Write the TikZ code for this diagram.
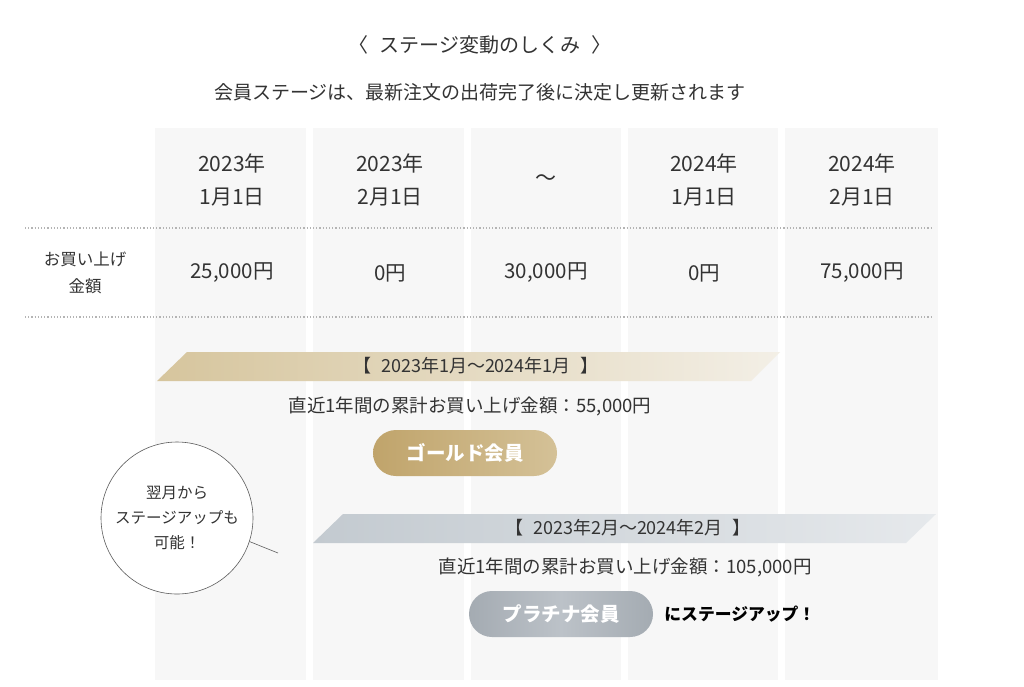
\documentclass[tikz,border=0pt]{standalone}
\usepackage{fontspec}
\setmainfont{Noto Sans CJK JP}
\usetikzlibrary{positioning,calc}
\definecolor{colbg}{HTML}{F7F7F7}
\definecolor{txtgray}{HTML}{333333}
\definecolor{dotgray}{HTML}{B4B4B4}
\definecolor{goldA}{HTML}{D6C59D}
\definecolor{goldB}{HTML}{F3EFE6}
\definecolor{silverA}{HTML}{C3CAD0}
\definecolor{silverB}{HTML}{E6E9EC}
\definecolor{goldpillA}{HTML}{C0A46B}
\definecolor{goldpillB}{HTML}{D4C197}
\definecolor{silverpillA}{HTML}{A4ABB2}
\definecolor{silverpillM}{HTML}{BCC2C8}

\begin{document}
\begin{tikzpicture}[
    x=1pt, y=-1pt,
    txt/.style={text=txtgray, inner sep=0pt, align=center, font=\fontsize{18.5}{22}\selectfont},
    datetxt/.style={txt, font=\fontsize{21}{33}\selectfont},
    amount/.style={txt, font=\fontsize{20.5}{22}\selectfont},
    bandtxt/.style={txt, font=\fontsize{18}{20}\selectfont},
    pill/.style={rounded corners=23pt, minimum width=184pt, minimum height=46pt, inner sep=0pt,
        text=white, font=\fontsize{19.5}{20}\selectfont\bfseries},
    rule/.style={dotgray, line width=1.2pt, dash pattern=on 1.2pt off 2pt},
    bubble/.style={circle, draw=txtgray!80, line width=0.6pt, fill=white, minimum size=152pt,
        inner sep=0pt, align=center, text=txtgray, font=\fontsize{15.5}{25}\selectfont}
]
\useasboundingbox (0,0) rectangle (1024,686);
\fill[white] (0,0) rectangle (1024,686);

% columns
\fill[colbg] (155,128) rectangle (306,680);
\fill[colbg] (313,128) rectangle (464,680);
\fill[colbg] (471,128) rectangle (621,680);
\fill[colbg] (628,128) rectangle (778,680);
\fill[colbg] (785,128) rectangle (938,680);

% headings
\node[txt, font=\fontsize{20}{22}\selectfont] (title) at (480,45) {〈\hspace{7pt} ステージ変動のしくみ \hspace{7pt}〉};
\node[txt, font=\fontsize{19}{22}\selectfont] (lead) at (480,92) {会員ステージは、最新注文の出荷完了後に決定し更新されます};

% dates
\node[datetxt] (d1) at (232,180) {2023年\\1月1日};
\node[datetxt] (d2) at (390,180) {2023年\\2月1日};
\node[datetxt] (d3) at (546,180) {～};
\node[datetxt] (d4) at (704,180) {2024年\\1月1日};
\node[datetxt] (d5) at (862,180) {2024年\\2月1日};

\draw[rule] (25,228) -- (932,228);
\draw[rule] (25,317) -- (932,317);

% amounts
\node[txt, font=\fontsize{16.5}{27}\selectfont] (label) at (85,273) {お買い上げ\\金額};
\node[amount] (a1) at (232,273) {25,000円};
\node[amount] (a2) at (390,273) {0円};
\node[amount] (a3) at (546,273) {30,000円};
\node[amount] (a4) at (704,273) {0円};
\node[amount] (a5) at (862,273) {75,000円};

% gold period
\shade[left color=goldA, right color=goldB] (157,381) -- (187,352) -- (780,352) -- (751,381) -- cycle;
\node[bandtxt] (goldband) at (476,366) {【\hspace{6pt} 2023年1月～2024年1月 \hspace{6pt}】};
\node[txt] (goldsum) at (470,406) {直近1年間の累計お買い上げ金額：55,000円};
\node[pill, left color=goldpillA, right color=goldpillB] (gold) at (465,453) {ゴールド会員};

% platinum period
\shade[left color=silverA, right color=silverB] (313,543) -- (343,514) -- (936,514) -- (906,543) -- cycle;
\node[bandtxt] (silverband) at (628,528) {【\hspace{6pt} 2023年2月～2024年2月 \hspace{6pt}】};
\node[txt] (silversum) at (625,567) {直近1年間の累計お買い上げ金額：105,000円};
\node[pill, left color=silverpillA, right color=silverpillA, middle color=silverpillM] (plat) at (561,614) {プラチナ会員};
\node[txt, right=11pt of plat, font=\fontsize{16.8}{20}\selectfont\bfseries, text=black] (up) {にステージアップ！};

% speech bubble
\node[bubble] (note) at (177,518) {翌月から\\ステージアップも\\可能！};
\coordinate (tip) at (278,553);
\draw[txtgray!80, line width=0.6pt] (note.-18) -- (tip);
\end{tikzpicture}
\end{document}
